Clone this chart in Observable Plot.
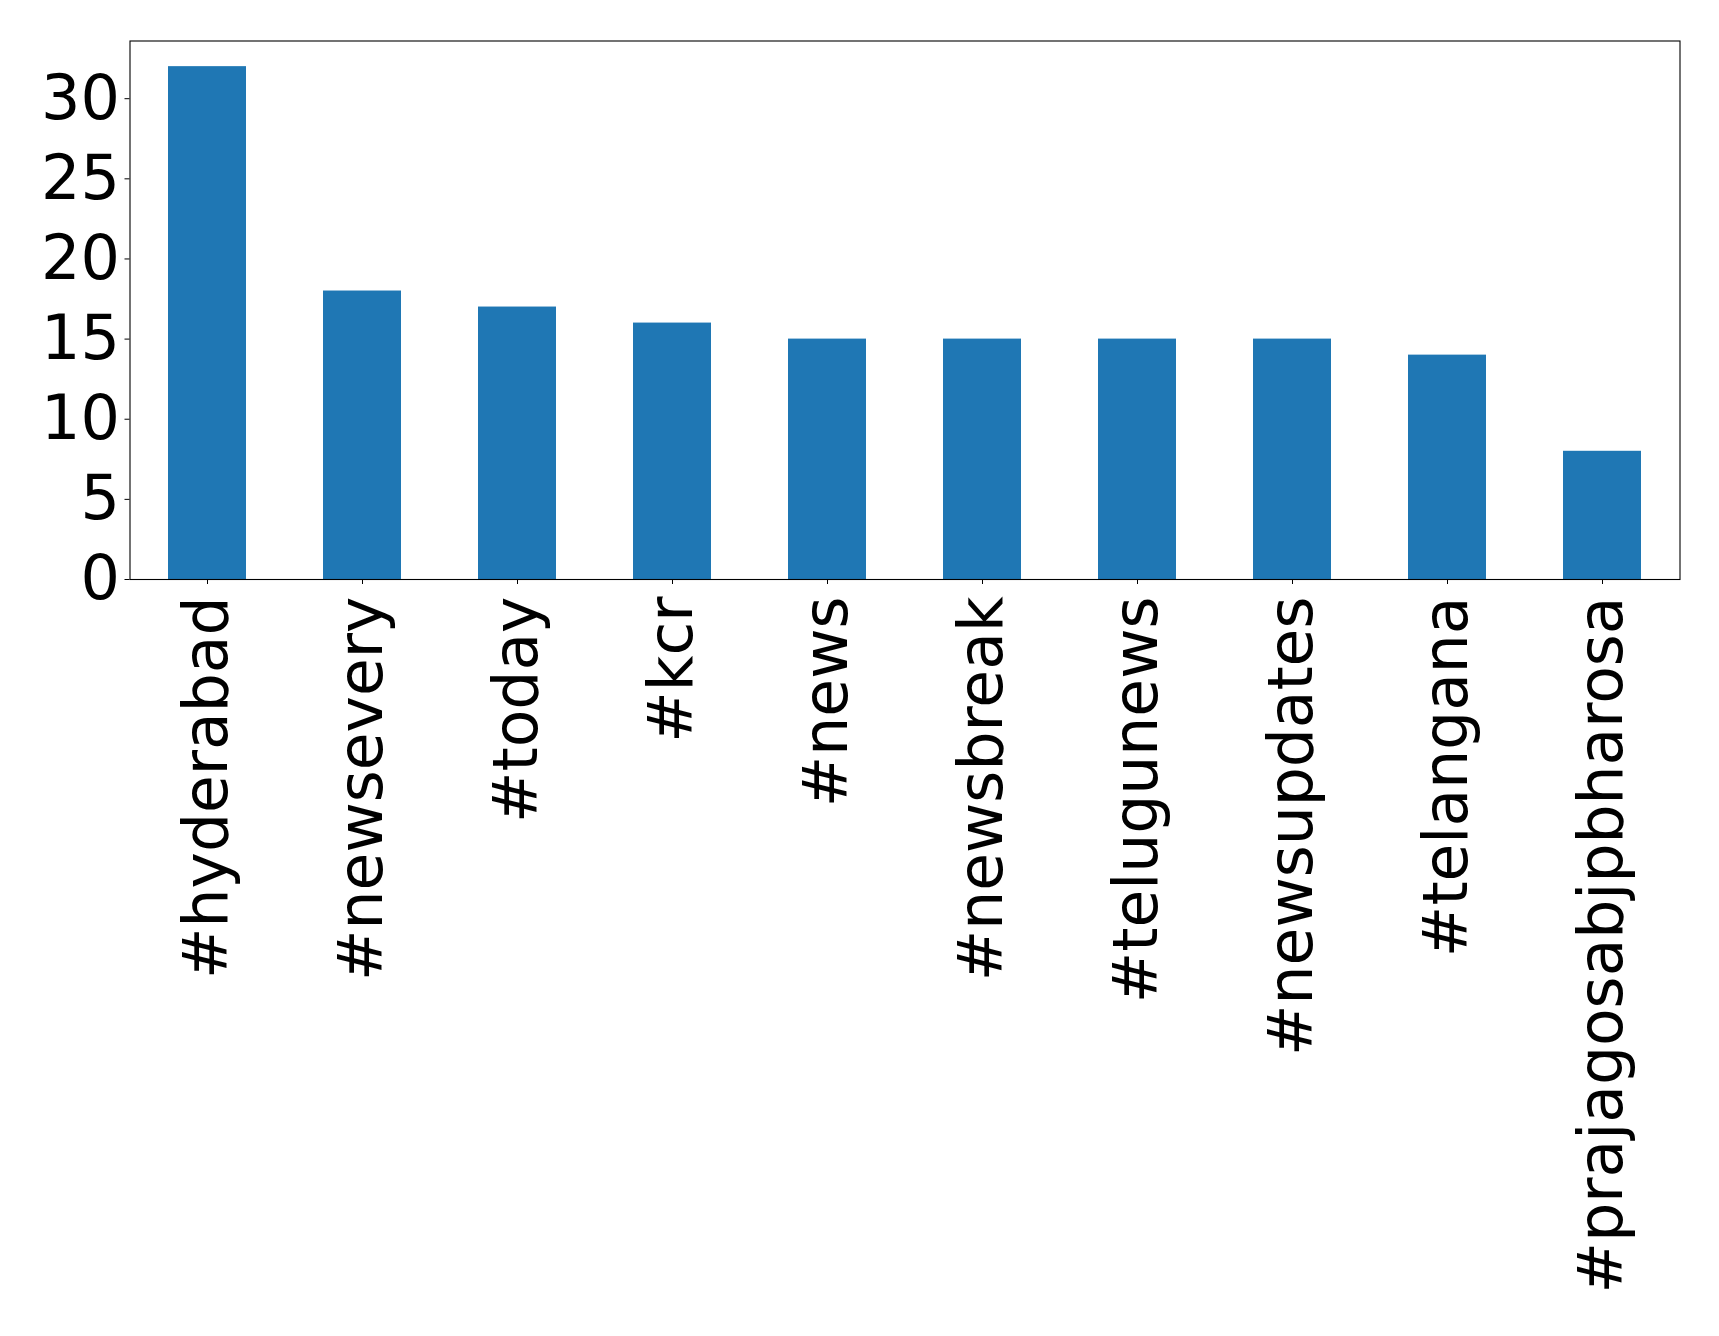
<!DOCTYPE html>
<html>
<head>
<meta charset="utf-8">
<script src="https://cdn.jsdelivr.net/npm/d3@7"></script>
<script src="https://cdn.jsdelivr.net/npm/@observablehq/plot@0.6"></script>
<style>
  html, body { margin: 0; padding: 0; background: #fff; }
  #chart svg { display: block; font-family: "DejaVu Sans", sans-serif; }
</style>
</head>
<body>
<div id="chart"></div>
<script>
const hashtags = ["#hyderabad", "#newsevery", "#today", "#kcr", "#news", "#newsbreak", "#telugunews", "#newsupdates", "#telangana", "#prajagosabjpbharosa"];
const counts = [32, 18, 17, 16, 15, 15, 15, 15, 14, 8];
const yTicks = [0, 5, 10, 15, 20, 25, 30];

const data = hashtags.map((h, i) => ({tag: h, count: counts[i]}));

const chart = Plot.plot({
  width: 1719,
  height: 1336,
  marginLeft: 129.5,
  marginRight: 39.5,
  marginTop: 40.5,
  marginBottom: 757,
  style: {fontFamily: "DejaVu Sans, sans-serif", color: "#000", background: "#fff"},
  x: {domain: hashtags, paddingInner: 0.5, paddingOuter: 0.25, label: null},
  y: {domain: [0, 33.6], label: null},
  marks: [
    Plot.barY(data, {x: "tag", y: "count", fill: "#1f77b4"}),
    Plot.axisY({ticks: yTicks, tickSize: 5, tickPadding: 5, fontSize: 62, label: null, stroke: "#000", strokeOpacity: 1}),
    Plot.axisX({tickRotate: -90, tickSize: 5, tickPadding: 12, fontSize: 61.5, label: null, stroke: "#000", strokeOpacity: 1}),
    Plot.frame({stroke: "#000", strokeWidth: 1.1})
  ]
});
document.getElementById("chart").appendChild(chart);
</script>
</body>
</html>
